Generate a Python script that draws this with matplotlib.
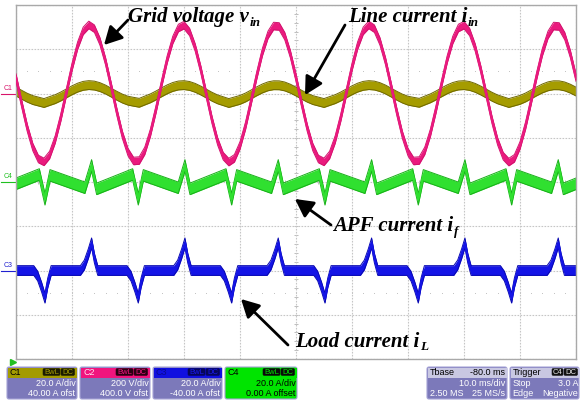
import matplotlib
matplotlib.use("Agg")
import matplotlib.pyplot as plt
from matplotlib.patches import Rectangle, FancyBboxPatch
from matplotlib.transforms import blended_transform_factory
import numpy as np

# ---------------- acquisition settings ----------------
MS_PER_DIV = 10.0
N_HDIV, N_VDIV = 10, 8
CH_SCALE = {"C1": 20.0, "C2": 200.0, "C3": 20.0, "C4": 20.0}     # units / div
CH_OFFSET = {"C1": 40.0, "C2": 400.0, "C3": -40.0, "C4": 0.0}   # offset, units

# ---------------- sampled traces (1 ms steps) ----------------
t_ms = list(range(0, 101))

grid_voltage_V = [
    72, -44, -154, -242, -296, -309, -278, -208, -109, 5,
    119, 216, 283, 310, 293, 235, 145, 33, -82, -187,
    -265, -305, -303, -259, -178, -72, 44, 154, 242, 296,
    309, 278, 208, 109, -5, -119, -216, -283, -310, -293,
    -235, -145, -33, 82, 187, 265, 305, 303, 259, 178,
    72, -44, -154, -242, -296, -309, -278, -208, -109, 5,
    119, 216, 283, 310, 293, 235, 145, 33, -82, -187,
    -265, -305, -303, -259, -178, -72, 44, 154, 242, 296,
    309, 278, 208, 109, -5, -119, -216, -283, -310, -293,
    -235, -145, -33, 82, 187, 265, 305, 303, 259, 178,
    72,
]

line_current_A = [
    0.88, -0.54, -1.89, -2.97, -3.63, -4.30, -3.41, -2.55, -1.34, 0.06,
    1.46, 2.65, 3.47, 3.80, 3.59, 2.88, 1.78, 0.40, -1.01, -2.29,
    -3.25, -3.74, -4.20, -3.18, -2.18, -0.88, 0.54, 1.89, 2.97, 3.63,
    3.79, 3.41, 2.55, 1.34, -0.06, -1.46, -2.65, -3.47, -4.30, -3.59,
    -2.88, -1.78, -0.40, 1.01, 2.29, 3.25, 3.74, 3.71, 3.18, 2.18,
    0.88, -0.54, -1.89, -2.97, -3.63, -4.30, -3.41, -2.55, -1.34, 0.06,
    1.46, 2.65, 3.47, 3.80, 3.59, 2.88, 1.78, 0.40, -1.01, -2.29,
    -3.25, -3.74, -4.20, -3.18, -2.18, -0.88, 0.54, 1.89, 2.97, 3.63,
    3.79, 3.41, 2.55, 1.34, -0.06, -1.46, -2.65, -3.47, -4.30, -3.59,
    -2.88, -1.78, -0.40, 1.01, 2.29, 3.25, 3.74, 3.71, 3.18, 2.18,
    0.88,
]

# ---------------- breakpoint traces (ms, A) ----------------
load_t_ms = [
    0.0,
    3.17, 3.87, 4.57, 5.17, 5.67, 6.27,
    11.50, 12.20, 12.90, 13.50, 14.00, 14.60,
    19.83, 20.53, 21.23, 21.83, 22.33, 22.93,
    28.17, 28.87, 29.57, 30.17, 30.67, 31.27,
    36.50, 37.20, 37.90, 38.50, 39.00, 39.60,
    44.83, 45.53, 46.23, 46.83, 47.33, 47.93,
    53.17, 53.87, 54.57, 55.17, 55.67, 56.27,
    61.50, 62.20, 62.90, 63.50, 64.00, 64.60,
    69.83, 70.53, 71.23, 71.83, 72.33, 72.93,
    78.17, 78.87, 79.57, 80.17, 80.67, 81.27,
    86.50, 87.20, 87.90, 88.50, 89.00, 89.60,
    94.83, 95.53, 96.23, 96.83, 97.33, 97.93,
    100.0,
]
load_current_A = [
    0.0,
    0.0, -2.5, -7.5, -12.5, -5.6, 0.0,
    0.0, 2.5, 7.5, 12.5, 5.6, 0.0,
    0.0, -2.5, -7.5, -12.5, -5.6, 0.0,
    0.0, 2.5, 7.5, 12.5, 5.6, 0.0,
    0.0, -2.5, -7.5, -12.5, -5.6, 0.0,
    0.0, 2.5, 7.5, 12.5, 5.6, 0.0,
    0.0, -2.5, -7.5, -12.5, -5.6, 0.0,
    0.0, 2.5, 7.5, 12.5, 5.6, 0.0,
    0.0, -2.5, -7.5, -12.5, -5.6, 0.0,
    0.0, 2.5, 7.5, 12.5, 5.6, 0.0,
    0.0, -2.5, -7.5, -12.5, -5.6, 0.0,
    0.0, 2.5, 7.5, 12.5, 5.6, 0.0,
    0.0,
]

apf_t_ms = [
    0.0,
    4.17, 5.17, 6.07, 12.30, 13.50, 14.40,
    20.83, 21.83, 22.73, 28.97, 30.17, 31.07,
    37.50, 38.50, 39.40, 45.63, 46.83, 47.73,
    54.17, 55.17, 56.07, 62.30, 63.50, 64.40,
    70.83, 71.83, 72.73, 78.97, 80.17, 81.07,
    87.50, 88.50, 89.40, 95.63, 96.83, 97.73,
    100.0,
]
apf_current_A = [
    -0.8,
    3.4, -7.8, 3.0, -2.6, 7.5, -3.1,
    3.4, -7.8, 3.0, -2.6, 7.5, -3.1,
    3.4, -7.8, 3.0, -2.6, 7.5, -3.1,
    3.4, -7.8, 3.0, -2.6, 7.5, -3.1,
    3.4, -7.8, 3.0, -2.6, 7.5, -3.1,
    3.4, -7.8, 3.0, -2.6, 7.5, -3.1,
    -0.8,
]

# ---------------- figure / screen ----------------
W, H = 580, 404
fig = plt.figure(figsize=(W / 100, H / 100), dpi=100)
fig.patch.set_facecolor("white")

SCR_L, SCR_R, SCR_T, SCR_B = 16, 576, 5, 359
ax = fig.add_axes([SCR_L / W, 1 - SCR_B / H, (SCR_R - SCR_L) / W, (SCR_B - SCR_T) / H])
ax.set_xlim(0, N_HDIV * MS_PER_DIV)
ax.set_ylim(-N_VDIV / 2, N_VDIV / 2)
ax.set_xticks(np.arange(0, N_HDIV * MS_PER_DIV + 1, MS_PER_DIV))
ax.set_yticks(np.arange(-N_VDIV / 2, N_VDIV / 2 + 1, 1))
ax.tick_params(length=0, labelbottom=False, labelleft=False)
ax.grid(True, color="#C6C6C6", linestyle=(0, (1.5, 1.2)), linewidth=0.8, zorder=0)
for s in ax.spines.values():
    s.set_color("#A9A9A9")
    s.set_linewidth(1.0)

# centre cross sub-division ticks and dotted rows
minor_x = np.arange(0, 101, 2.0)
minor_y = np.arange(-4, 4.01, 0.2)
ax.plot(minor_x, np.zeros_like(minor_x), ls="none", marker="|", ms=3.5, mew=0.7, color="#BDBDBD", zorder=0.5)
ax.plot(np.full_like(minor_y, 50.0), minor_y, ls="none", marker="_", ms=3.5, mew=0.7, color="#BDBDBD", zorder=0.5)
for yrow in (2.5, -2.5):
    ax.plot(minor_x, np.full_like(minor_x, yrow), ls="none", marker="s", ms=0.7, mew=0,
            color="#C4C4C4", zorder=0.5)


def to_div(vals, ch):
    return (np.asarray(vals, float) + CH_OFFSET[ch]) / CH_SCALE[ch]


def draw_trace(t, vals, ch, core, edge, half, lw_core, z):
    t = np.asarray(t, float)
    pos = to_div(vals, ch)
    ax.fill_between(t, pos - half, pos + half, color=core, lw=0, zorder=z)
    ax.plot(t, pos + half, color=edge, lw=0.7, zorder=z + 0.1)
    ax.plot(t, pos - half, color=edge, lw=0.7, zorder=z + 0.1)
    ax.plot(t, pos, color=core, lw=lw_core, zorder=z + 0.2, solid_joinstyle="round")


draw_trace(t_ms, line_current_A, "C1", "#A59C00", "#6F6800", 0.10, 1.5, 2)
draw_trace(t_ms, grid_voltage_V, "C2", "#EA1A7E", "#D0126C", 0.085, 1.6, 3)
draw_trace(apf_t_ms, apf_current_A, "C4", "#30E030", "#18B018", 0.13, 1.6, 2)
draw_trace(load_t_ms, load_current_A, "C3", "#1414E6", "#0808B0", 0.11, 1.6, 2)

# channel ground markers on the left edge
btr = blended_transform_factory(ax.transAxes, ax.transData)
for ch, col in (("C1", "#D8146A"), ("C4", "#20C020"), ("C3", "#2020D0")):
    y0 = CH_OFFSET[ch] / CH_SCALE[ch]
    ax.text(-0.006, y0 + 0.04, ch, transform=btr, ha="right", va="bottom",
            fontsize=5, color=col, family="Liberation Sans", clip_on=False)
    ax.plot([-0.026, -0.002], [y0, y0], transform=btr, color=col, lw=0.8, clip_on=False)

# ---------------- overlay in pixel units ----------------
ov = fig.add_axes([0, 0, 1, 1], zorder=5)
ov.set_xlim(0, W)
ov.set_ylim(H, 0)
ov.axis("off")
ov.patch.set_alpha(0)

renderer = fig.canvas.get_renderer()
SERIF = dict(family="Liberation Serif", weight="bold", style="italic", color="black")


def caption(x, y, main, sub):
    t1 = ov.text(x, y, main, fontsize=15, ha="left", va="baseline", **SERIF)
    bb = t1.get_window_extent(renderer=renderer)
    ov.text(bb.x1 + 0.5, y + 3.5, sub, fontsize=9.5, ha="left", va="baseline", **SERIF)


def arrow(tail, tip):
    ov.annotate("", xy=tip, xytext=tail,
                arrowprops=dict(arrowstyle="-|>,head_length=0.6,head_width=0.32",
                                color="black", lw=2.0, mutation_scale=18,
                                shrinkA=0, shrinkB=0))


caption(128, 22, "Grid voltage v", "in")
arrow((128, 20), (104, 45))
caption(348, 22, "Line current i", "in")
arrow((345, 25), (305, 95))
caption(333, 231, "APF current i", "f")
arrow((331, 225), (295, 199))
caption(295, 347, "Load current i", "L")
arrow((288, 345), (241, 299))

# ---------------- status panel ----------------
SANS = "Liberation Sans"
BODY = "#7C79BA"
BOX_T, BOX_B, HEAD_H = 367, 399, 10


def panel_box(x0, x1, body=BODY, edge="#A6A4D6"):
    ov.add_patch(FancyBboxPatch((x0, BOX_T), x1 - x0, BOX_B - BOX_T,
                                boxstyle="round,pad=0,rounding_size=2",
                                fc=body, ec=edge, lw=0.8))


def tag(x, w, text, fc, tc):
    ov.add_patch(FancyBboxPatch((x, BOX_T + 1.6), w, HEAD_H - 3.2,
                                boxstyle="round,pad=0,rounding_size=1.2", fc=fc, ec=fc, lw=0.4))
    ov.text(x + w / 2, BOX_T + HEAD_H / 2 + 0.3, text, fontsize=5.5, ha="center", va="center",
            color=tc, family=SANS)


def chan_box(x0, x1, name, head, name_col, tag_fc, tag_tc, row1, row2, body=BODY, text_col="white"):
    panel_box(x0, x1, body=body)
    ov.add_patch(Rectangle((x0 + 0.5, BOX_T + 0.5), x1 - x0 - 1, HEAD_H, fc=head, ec="none"))
    ov.text(x0 + 3, BOX_T + HEAD_H / 2 + 0.5, name, fontsize=6.5, ha="left", va="center",
            color=name_col, family=SANS)
    tag(x1 - 34, 17, "BwL", tag_fc, tag_tc)
    tag(x1 - 16, 13.5, "DC", tag_fc, tag_tc)
    ov.text(x1 - 1.5, 383.5, row1, fontsize=6.5, ha="right", va="center", color=text_col, family=SANS)
    ov.text(x1 - 1.5, 393.5, row2, fontsize=6.5, ha="right", va="center", color=text_col, family=SANS)


chan_box(7, 77, "C1", "#A39B00", "black", "#1A1A00", "#A39B00", "20.0 A/div", "40.00 A ofst")
chan_box(80, 150, "C2", "#F0147E", "#FFE0F0", "#2A0012", "#F0147E", "200 V/div", "400.0 V ofst")
chan_box(153, 222, "C3", "#1010E0", "#0A0A90", "#06065A", "#1818F0", "20.0 A/div", "-40.00 A ofst")
chan_box(225, 297, "C4", "#00E400", "black", "#0A0A0A", "#00E400", "20.0 A/div", "0.00 A offset",
         body="#00E400", text_col="black")

# trigger-position marker
ov.plot([13], [362], marker=">", ms=4, color="#22C022")

HEAD_GREY = "#C9C8E2"
# timebase
panel_box(427, 507)
ov.add_patch(Rectangle((427.5, BOX_T + 0.5), 79, HEAD_H, fc=HEAD_GREY, ec="none"))
ov.text(430, BOX_T + HEAD_H / 2 + 0.5, "Tbase", fontsize=6.5, ha="left", va="center", color="black", family=SANS)
ov.text(505.5, BOX_T + HEAD_H / 2 + 0.5, "-80.0 ms", fontsize=6.5, ha="right", va="center", color="black", family=SANS)
ov.text(505.5, 383.5, "10.0 ms/div", fontsize=6.5, ha="right", va="center", color="white", family=SANS)
ov.text(429.5, 393.5, "2.50 MS", fontsize=6.5, ha="left", va="center", color="white", family=SANS)
ov.text(505.5, 393.5, "25 MS/s", fontsize=6.5, ha="right", va="center", color="white", family=SANS)

# trigger
panel_box(510, 579)
ov.add_patch(Rectangle((510.5, BOX_T + 0.5), 68, HEAD_H, fc=HEAD_GREY, ec="none"))
ov.text(513, BOX_T + HEAD_H / 2 + 0.5, "Trigger", fontsize=6.5, ha="left", va="center", color="black", family=SANS)
tag(552, 11, "C4", "#111111", "#E8E8E8")
tag(564, 13.5, "DC", "#111111", "#E8E8E8")
ov.text(512.5, 383.5, "Stop", fontsize=6.5, ha="left", va="center", color="white", family=SANS)
ov.text(578, 383.5, "3.0 A", fontsize=6.5, ha="right", va="center", color="white", family=SANS)
ov.text(512.5, 393.5, "Edge", fontsize=6.5, ha="left", va="center", color="white", family=SANS)
ov.text(578, 393.5, "Negative", fontsize=6.5, ha="right", va="center", color="white", family=SANS)

fig.savefig("out.png", dpi=100, facecolor="white")
